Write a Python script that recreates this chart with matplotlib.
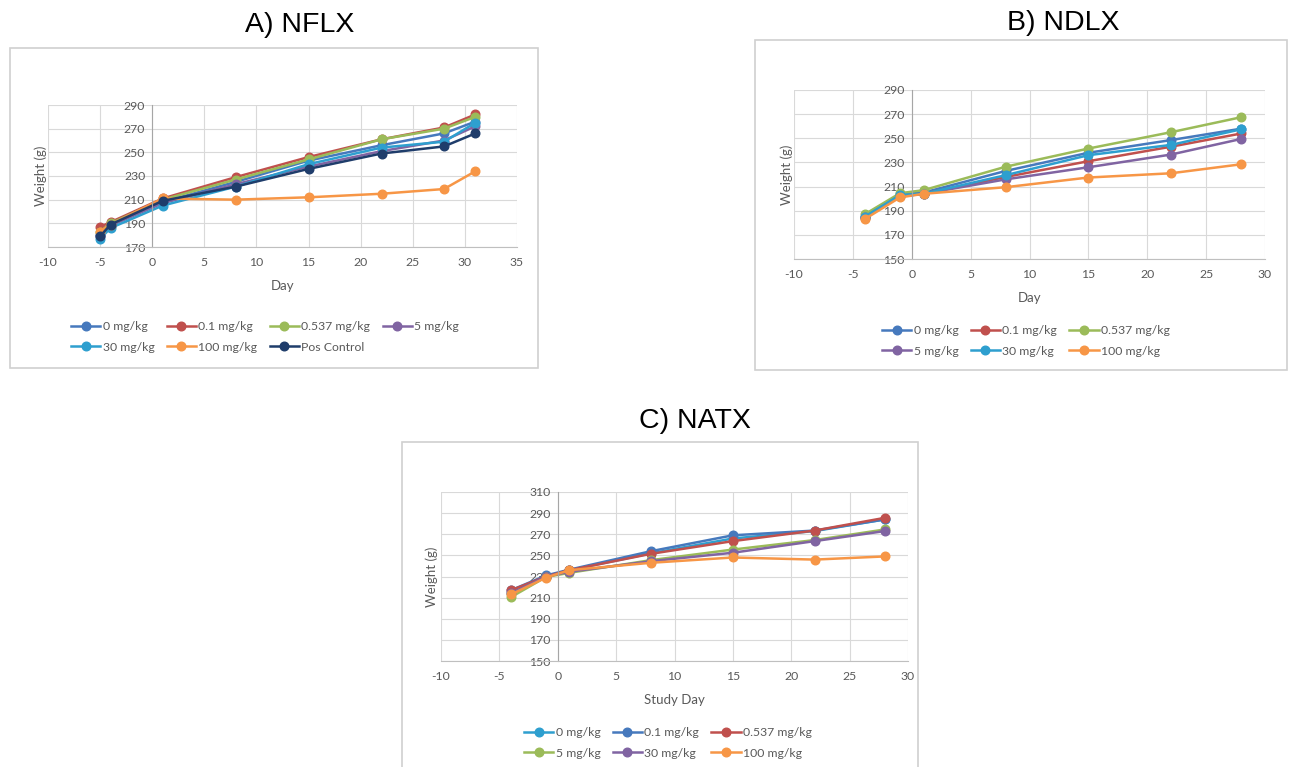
import matplotlib
matplotlib.use("Agg")
import matplotlib.pyplot as plt
from matplotlib.patches import Rectangle

# ---- data ----
nflx_days = [-5, -4, 1, 8, 15, 22, 28, 31]
nflx_labels = ["0 mg/kg", "0.1 mg/kg", "0.537 mg/kg", "5 mg/kg", "30 mg/kg", "100 mg/kg", "Pos Control"]
nflx_0 = [180, 189, 208, 225, 243, 256, 266, 276]
nflx_01 = [187, 191, 211, 229, 246, 261, 271, 282]
nflx_0537 = [183, 190, 210, 227, 244, 261, 270, 280]
nflx_5 = [179, 188, 207, 223, 238, 251, 260, 272]
nflx_30 = [177, 186, 205, 221, 240, 254, 259, 275]
nflx_100 = [183, 189, 211, 210, 212, 215, 219, 234]
nflx_pos = [179, 189, 209, 221, 236, 249, 255, 266]

ndlx_days = [-4, -1, 1, 8, 15, 22, 28]
ndlx_labels = ["0 mg/kg", "0.1 mg/kg", "0.537 mg/kg", "5 mg/kg", "30 mg/kg", "100 mg/kg"]
ndlx_0 = [185, 203.5, 205, 223, 238, 248.5, 258]
ndlx_01 = [184, 202, 204, 218, 231, 243, 254]
ndlx_0537 = [187, 204.5, 207, 226.5, 241.5, 255, 267.5]
ndlx_5 = [184.5, 202, 204, 216, 226, 236.5, 249.5]
ndlx_30 = [185, 203, 204, 219.5, 236, 244.5, 257.5]
ndlx_100 = [183, 201, 204, 209.5, 217.5, 221, 228.5]

natx_days = [-4, -1, 1, 8, 15, 22, 28]
natx_labels = ["0 mg/kg", "0.1 mg/kg", "0.537 mg/kg", "5 mg/kg", "30 mg/kg", "100 mg/kg"]
natx_0 = [214, 230, 236, 252, 266, 273, 284]
natx_01 = [217, 231, 236.5, 254, 269, 273.5, 284]
natx_0537 = [217, 230, 236, 251.5, 263.5, 273.5, 285.5]
natx_5 = [210.5, 229.5, 233.5, 245.5, 255.5, 264.5, 274.5]
natx_30 = [214, 230, 234.5, 244.5, 252.5, 263.5, 273]
natx_100 = [213, 229, 236, 243, 248, 246, 249]

BLUE, RED, GREEN, PURPLE = "#4679BD", "#C0504D", "#9BBB59", "#8064A2"
AQUA, ORANGE, NAVY = "#2E9FCF", "#F79646", "#1F3D6B"

W, H = 1290, 767
plt.rcParams["font.family"] = ["Lato", "DejaVu Sans"]
plt.rcParams["axes.unicode_minus"] = False
TXT = "#595959"

fig = plt.figure(figsize=(W / 100, H / 100), dpi=100)
fig.patch.set_facecolor("white")


def px_axes(l, t, r, b):
    return fig.add_axes([l / W, 1 - b / H, (r - l) / W, (b - t) / H])


def frame(l, t, r, b):
    fig.add_artist(Rectangle((l / W, 1 - b / H), (r - l) / W, (b - t) / H,
                             transform=fig.transFigure, fill=False,
                             edgecolor="#D0D0D0", linewidth=1.2))


def style(ax, xlim, ylim, xlabel, ylab_x):
    ax.set_xlim(*xlim)
    ax.set_ylim(*ylim)
    ax.set_xticks(range(xlim[0], xlim[1] + 1, 5))
    ax.set_yticks(range(ylim[0], ylim[1] + 1, 20))
    ax.grid(True, color="#D9D9D9", linewidth=0.8)
    ax.set_axisbelow(True)
    for s in ("top", "right"):
        ax.spines[s].set_visible(False)
    ax.spines["left"].set_position(("data", 0))
    ax.spines["left"].set_color("#A6A6A6")
    ax.spines["bottom"].set_color("#BFBFBF")
    ax.tick_params(length=0, labelsize=8.8, colors=TXT, pad=5)
    ax.tick_params(axis="x", pad=7)
    ax.set_xlabel(xlabel, fontsize=9.5, color=TXT, labelpad=9)
    ax.set_ylabel("Weight (g)", fontsize=9.5, color=TXT)
    ax.yaxis.set_label_coords(ylab_x, 0.5)


def legend(ax, order, ncol, cx, cy):
    h, lab = ax.get_legend_handles_labels()
    ax.legend([h[i] for i in order], [lab[i] for i in order], ncol=ncol,
              loc="center", bbox_to_anchor=(cx / W, 1 - cy / H),
              bbox_transform=fig.transFigure, frameon=False, fontsize=8.8,
              labelcolor=TXT, handlelength=2.4, handletextpad=0.2,
              columnspacing=1.0, labelspacing=0.75)


def draw(ax, days, series, labels, colors):
    for ys, lab, c in zip(series, labels, colors):
        ax.plot(days, ys, color=c, lw=1.8, marker="o", ms=6.2, label=lab)


# ---- A) NFLX ----
frame(10, 48, 538, 368)
fig.text(300 / W, 1 - 25 / H, "A) NFLX", ha="center", va="center",
         fontsize=20.5, family="Liberation Sans")
axA = px_axes(48, 105, 517, 247)
draw(axA, nflx_days,
     [nflx_0, nflx_01, nflx_0537, nflx_5, nflx_30, nflx_100, nflx_pos],
     nflx_labels, [BLUE, RED, GREEN, PURPLE, AQUA, ORANGE, NAVY])
style(axA, (-10, 35), (170, 290), "Day", -0.003)
legend(axA, [0, 4, 1, 5, 2, 6, 3], 4, 265, 337)

# ---- B) NDLX ----
frame(755, 40, 1287, 370)
fig.text(1063 / W, 1 - 23 / H, "B) NDLX", ha="center", va="center",
         fontsize=20.5, family="Liberation Sans")
axB = px_axes(794, 90, 1265, 259)
draw(axB, ndlx_days,
     [ndlx_0, ndlx_01, ndlx_0537, ndlx_5, ndlx_30, ndlx_100],
     ndlx_labels, [BLUE, RED, GREEN, PURPLE, AQUA, ORANGE])
style(axB, (-10, 30), (150, 290), "Day", -0.003)
legend(axB, [0, 3, 1, 4, 2, 5], 3, 1026, 341)

# ---- C) NATX ----
frame(402, 442, 918, 790)
fig.text(695 / W, 1 - 421 / H, "C) NATX", ha="center", va="center",
         fontsize=20.5, family="Liberation Sans")
axC = px_axes(441, 492, 908, 661)
draw(axC, natx_days,
     [natx_0, natx_01, natx_0537, natx_5, natx_30, natx_100],
     natx_labels, [AQUA, BLUE, RED, GREEN, PURPLE, ORANGE])
style(axC, (-10, 30), (150, 310), "Study Day", -0.006)
legend(axC, [0, 3, 1, 4, 2, 5], 3, 668, 743)

fig.savefig("out.png", dpi=100, facecolor="white")
